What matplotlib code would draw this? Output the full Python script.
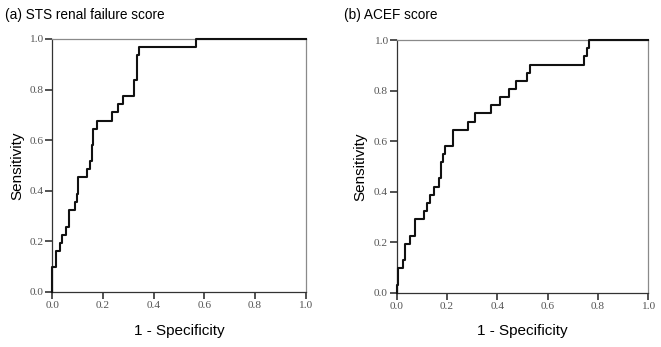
import matplotlib
matplotlib.use("Agg")
import matplotlib.pyplot as plt

# ROC step corners (1 - specificity, sensitivity)
sts_fpr = [0, 0, 0.013, 0.030, 0.037, 0.054, 0.067, 0.091, 0.096, 0.101, 0.139,
           0.149, 0.155, 0.162, 0.175, 0.237, 0.260, 0.278, 0.321, 0.335, 0.342,
           0.567, 1.0]
sts_tpr = [0, 0.097, 0.161, 0.194, 0.226, 0.258, 0.323, 0.355, 0.387, 0.452, 0.484,
           0.516, 0.581, 0.645, 0.677, 0.710, 0.742, 0.774, 0.839, 0.935, 0.968,
           1.0, 1.0]

acef_fpr = [0, 0, 0.004, 0.026, 0.034, 0.054, 0.072, 0.110, 0.119, 0.132, 0.150,
            0.168, 0.177, 0.183, 0.190, 0.224, 0.285, 0.311, 0.376, 0.411, 0.448,
            0.473, 0.517, 0.528, 0.745, 0.755, 0.765, 1.0]
acef_tpr = [0, 0.032, 0.097, 0.129, 0.194, 0.226, 0.290, 0.323, 0.355, 0.387, 0.419,
            0.452, 0.516, 0.548, 0.581, 0.645, 0.677, 0.710, 0.742, 0.774, 0.806,
            0.839, 0.871, 0.903, 0.935, 0.968, 1.0, 1.0]

titles = ["(a) STS renal failure score", "(b) ACEF score"]
ticks = [0.0, 0.2, 0.4, 0.6, 0.8, 1.0]
tick_labels = ["0.0", "0.2", "0.4", "0.6", "0.8", "1.0"]

W, H = 661, 347
fig = plt.figure(figsize=(W / 100, H / 100), dpi=100)

# axes boxes in pixels: left, right, top, bottom
boxes = [(52.3, 305.5, 39.0, 291.7), (396.7, 648.4, 40.0, 292.7)]
title_x = [5, 344]
ylab_x = [17, 360]
curves = [(sts_fpr, sts_tpr), (acef_fpr, acef_tpr)]

for i in range(2):
    l, r, t, b = boxes[i]
    ax = fig.add_axes([l / W, (H - b) / H, (r - l) / W, (b - t) / H])
    fpr, tpr = curves[i]
    ax.plot(fpr, tpr, drawstyle="steps-post", color="#111111", lw=1.5,
            clip_on=False, zorder=3)
    ax.set_xlim(0, 1)
    ax.set_ylim(0, 1)
    ax.set_xticks(ticks)
    ax.set_yticks(ticks)
    ax.set_xticklabels(tick_labels, family="Liberation Serif", fontsize=8.2,
                       color="#555555")
    ax.set_yticklabels(tick_labels, family="Liberation Serif", fontsize=8.2,
                       color="#555555")
    ax.tick_params(length=5, width=1.1, color="#222222", pad=1.5)
    for side in ["left", "bottom"]:
        ax.spines[side].set_color("#333333")
        ax.spines[side].set_linewidth(0.9)
    for side in ["top", "right"]:
        ax.spines[side].set_color("#8a8a8a")
        ax.spines[side].set_linewidth(0.9)

    ax.set_xlabel("1 - Specificity", family="Liberation Sans", fontsize=11)
    ax.set_ylabel("Sensitivity", family="Liberation Sans", fontsize=11)
    ax.xaxis.set_label_coords(0.5, (b - 331.0) / (b - t))
    ax.xaxis.label.set_va("center")
    ax.yaxis.set_label_coords((ylab_x[i] - l) / (r - l), 0.5)
    ax.yaxis.label.set_va("center")

    fig.text(title_x[i] / W, 1 - 15 / H, titles[i], family="Liberation Sans",
             fontsize=9.8, va="center", ha="left")

fig.savefig("out.png", dpi=100)
